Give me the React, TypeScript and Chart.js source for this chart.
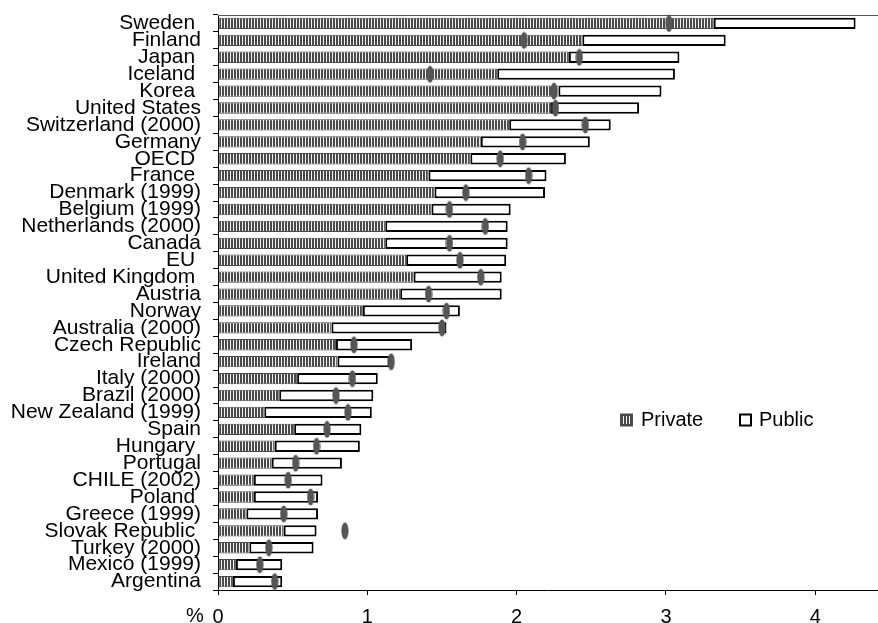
import React, { useEffect, useRef } from 'react';
import { Chart, registerables } from 'chart.js';

Chart.register(...registerables);

const categories = [
  'Sweden ', 'Finland', 'Japan ', 'Iceland ', 'Korea ', 'United States', 'Switzerland (2000)', 'Germany',
  'OECD ', 'France ', 'Denmark (1999)', 'Belgium (1999)', 'Netherlands (2000)', 'Canada', 'EU ',
  'United Kingdom ', 'Austria', 'Norway', 'Australia (2000)', 'Czech Republic', 'Ireland', 'Italy (2000)',
  'Brazil (2000)', 'New Zealand (1999)', 'Spain', 'Hungary ', 'Portugal', 'CHILE (2002)', 'Poland ',
  'Greece (1999)', 'Slovak Republic ', 'Turkey (2000)', 'Mexico (1999)', 'Argentina',
];

const privateValues = [
  3.32, 2.44, 2.35, 1.87, 2.28, 2.23, 1.95, 1.76, 1.69, 1.41, 1.45, 1.43, 1.12, 1.12, 1.26, 1.31, 1.22,
  0.97, 0.76, 0.79, 0.80, 0.53, 0.41, 0.31, 0.51, 0.38, 0.36, 0.24, 0.24, 0.19, 0.44, 0.21, 0.12, 0.10,
];

const publicValues = [
  0.95, 0.96, 0.74, 1.19, 0.69, 0.59, 0.68, 0.73, 0.64, 0.79, 0.74, 0.53, 0.82, 0.82, 0.67, 0.59, 0.68,
  0.65, 0.77, 0.51, 0.35, 0.54, 0.63, 0.72, 0.45, 0.57, 0.47, 0.46, 0.43, 0.48, 0.22, 0.43, 0.31, 0.33,
];

const markerValues = [
  3.02, 2.05, 2.42, 1.42, 2.25, 2.26, 2.46, 2.04, 1.89, 2.08, 1.66, 1.55, 1.79, 1.55, 1.62, 1.76, 1.41,
  1.53, 1.50, 0.91, 1.16, 0.90, 0.79, 0.87, 0.73, 0.66, 0.52, 0.47, 0.62, 0.44, 0.85, 0.34, 0.28, 0.38,
];

const xTickValues = [0, 1, 2, 3, 4];
const legendLabels = ['Private', 'Public'];

const FONT = '"Liberation Sans", Arial, sans-serif';
const DARK = '#4a4a4a';
const W = 878;
const H = 623;

function makeHatch(): CanvasPattern | string {
  const c = document.createElement('canvas');
  c.width = 3;
  c.height = 4;
  const g = c.getContext('2d');
  if (!g) return DARK;
  g.fillStyle = '#f2f2f2';
  g.fillRect(0, 0, 3, 4);
  g.fillStyle = DARK;
  g.fillRect(0, 0, 2, 4);
  return g.createPattern(c, 'repeat') || DARK;
}

function makeEllipse(): HTMLCanvasElement {
  const c = document.createElement('canvas');
  c.width = 8;
  c.height = 18;
  const g = c.getContext('2d');
  if (g) {
    g.fillStyle = '#555555';
    g.beginPath();
    g.ellipse(4, 9, 3.6, 8.6, 0, 0, Math.PI * 2);
    g.fill();
  }
  return c;
}

export default function App() {
  const canvasRef = useRef<HTMLCanvasElement | null>(null);

  useEffect(() => {
    document.body.style.margin = '0';
    const canvas = canvasRef.current;
    if (!canvas) return;
    const hatch = makeHatch();
    const ellipse = makeEllipse();

    const extras = {
      id: 'extras',
      afterDraw(chart: any) {
        const { ctx, chartArea } = chart;
        ctx.save();
        ctx.strokeStyle = '#555555';
        ctx.lineWidth = 1;
        ctx.beginPath();
        ctx.moveTo(chartArea.left, chartArea.top + 0.5);
        ctx.lineTo(chartArea.right, chartArea.top + 0.5);
        ctx.stroke();

        ctx.fillStyle = '#000';
        ctx.font = `20px ${FONT}`;
        ctx.textAlign = 'center';
        ctx.textBaseline = 'middle';
        ctx.fillText('%', chartArea.left - 23, chartArea.bottom + 26);

        const ly = chartArea.top + 405;
        const lx = chartArea.left + 402;
        ctx.fillStyle = DARK;
        ctx.fillRect(lx, ly - 6.5, 13, 13);
        ctx.fillStyle = '#f2f2f2';
        for (let i = 0; i < 3; i++) ctx.fillRect(lx + 3 + i * 3, ly - 4, 1, 8);
        ctx.fillStyle = '#000';
        ctx.textAlign = 'left';
        ctx.fillText(legendLabels[0], lx + 21, ly);

        const px = lx + 119;
        ctx.fillStyle = '#fff';
        ctx.fillRect(px, ly - 6.5, 13, 13);
        ctx.strokeStyle = '#000';
        ctx.lineWidth = 2;
        ctx.strokeRect(px + 1, ly - 5.5, 11, 11);
        ctx.fillStyle = '#000';
        ctx.fillText(legendLabels[1], px + 20, ly);
        ctx.restore();
      },
    };

    const chart = new Chart(canvas, {
      type: 'bar',
      data: {
        labels: categories,
        datasets: [
          {
            type: 'line' as any,
            label: 'marker',
            data: markerValues,
            showLine: false,
            pointStyle: ellipse as any,
            pointRadius: 5,
            pointHoverRadius: 5,
            indexAxis: 'y',
            stack: 'markers',
            order: 0,
          } as any,
          {
            label: legendLabels[0],
            data: privateValues,
            backgroundColor: hatch as any,
            borderColor: DARK,
            borderWidth: 1,
            borderSkipped: false,
            barPercentage: 0.67,
            categoryPercentage: 1,
            order: 1,
          },
          {
            label: legendLabels[1],
            data: publicValues,
            backgroundColor: '#ffffff',
            borderColor: '#000000',
            borderWidth: 2,
            borderSkipped: false,
            barPercentage: 0.67,
            categoryPercentage: 1,
            order: 1,
          },
        ],
      },
      options: {
        indexAxis: 'y',
        animation: false,
        responsive: false,
        devicePixelRatio: 1,
        layout: { autoPadding: false, padding: { top: 15, right: 0, left: 0, bottom: 0 } },
        plugins: {
          legend: { display: false },
          tooltip: { enabled: false },
          title: { display: false },
        },
        scales: {
          x: {
            type: 'linear',
            stacked: true,
            min: 0,
            max: 4.42,
            afterBuildTicks: (s: any) => {
              s.ticks = xTickValues.map((v) => ({ value: v }));
            },
            ticks: { font: { size: 20, family: FONT }, color: '#000', padding: 10, maxRotation: 0 },
            grid: { drawOnChartArea: false, drawTicks: true, tickLength: 5, color: '#000' },
            border: { color: '#000', width: 1 },
            afterFit: (s: any) => {
              s.height = 33;
              s.paddingLeft = 0;
              s.paddingRight = 0;
            },
          },
          y: {
            type: 'category',
            stacked: true,
            offset: true,
            ticks: { autoSkip: false, font: { size: 21, family: FONT }, color: '#000', padding: 12 },
            grid: { drawOnChartArea: false, offset: true, drawTicks: true, tickLength: 5, color: '#000' },
            border: { color: '#000', width: 1 },
            afterFit: (s: any) => {
              s.width = 218;
              s.paddingTop = 0;
              s.paddingBottom = 0;
            },
          },
        },
      },
      plugins: [extras],
    });

    return () => chart.destroy();
  }, []);

  return (
    <div style={{ position: 'fixed', left: 0, top: 0, width: W, height: H }}>
      <canvas ref={canvasRef} width={W} height={H} style={{ display: 'block', width: W, height: H }} />
    </div>
  );
}
